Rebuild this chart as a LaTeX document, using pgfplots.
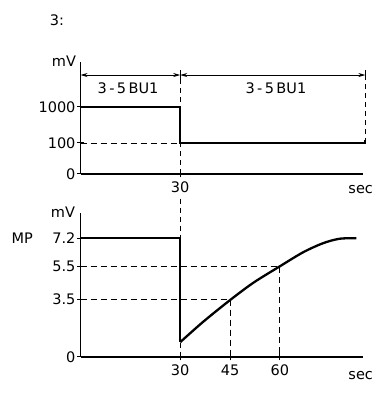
\documentclass[border=0pt]{standalone}
\usepackage{pgfplots}
\pgfplotsset{compat=1.18}
\usepackage{fontspec}
\setmainfont{DejaVu Sans}
\usetikzlibrary{arrows.meta}
\begin{document}
\begin{tikzpicture}[x=1pt,y=1pt,font=\fontsize{14.5}{16}\selectfont]
\path[use as bounding box] (0,0) rectangle (386,393);
\node at (57,373) {3:};
% ---------------- top axis
\begin{axis}[
  at={(80.5pt,219pt)}, anchor=south west,
  scale only axis, width=282.5pt, height=112pt,
  xmin=0, xmax=85, ymin=0, ymax=3.61,
  axis x line=bottom, axis y line=left,
  axis line style={line width=1.4pt,-},
  xtick={30}, xticklabels={30},
  ytick={0,1,2.16}, yticklabels={0,100,1000},
  tick style={black,line width=1pt},
  major tick length=7pt, tick align=center,
  xticklabel style={yshift=-1pt},
  yticklabel style={xshift=2pt},
  /pgf/number format/assume math mode=true,
  clip=false,
]
\addplot[black,line width=2.3pt] coordinates {(0,2.16) (30,2.16) (30,1) (85.7,1) (85.7,1.1)};
\addplot[black,line width=0.9pt,dash pattern=on 6pt off 4pt] coordinates {(0,1) (30,1)};
\addplot[black,line width=0.9pt,dash pattern=on 5pt off 4pt] coordinates {(30,3.35) (30,0)};
\addplot[black,line width=0.9pt,dash pattern=on 5pt off 4pt] coordinates {(85.7,3.19) (85.7,1)};
\addplot[black,line width=0.9pt] coordinates {(30,3.35) (30,3.03)};
\addplot[black,line width=0.9pt] coordinates {(85.7,3.35) (85.7,3.03)};
\addplot[black,line width=0.8pt,{Stealth[length=7pt,width=4pt]}-{Stealth[length=7pt,width=4pt]}] coordinates {(0,3.19) (30,3.19)};
\addplot[black,line width=0.8pt,{Stealth[length=7pt,width=4pt]}-{Stealth[length=7pt,width=4pt]}] coordinates {(30,3.19) (85.7,3.19)};
\node at (axis cs:14.3,2.78) {3\,-\,5\,BU1};
\node at (axis cs:58.8,2.78) {3\,-\,5\,BU1};
\node[anchor=east] at (axis cs:-0.3,3.62) {mV};
\node at (axis cs:84.3,-0.5) {sec};
\end{axis}
% ---------------- bottom axis
\begin{axis}[
  at={(80.5pt,36pt)}, anchor=south west,
  scale only axis, width=282.5pt, height=144pt,
  xmin=0, xmax=85, ymin=0, ymax=8.73,
  axis x line=bottom, axis y line=left,
  axis line style={line width=1.4pt,-},
  xtick={30,45,60}, xticklabels={30,45,60},
  ytick={0,3.5,5.5,7.2}, yticklabels={0,3.5,5.5,7.2},
  tick style={black,line width=1pt},
  major tick length=7pt, tick align=center,
  xticklabel style={yshift=-1pt},
  yticklabel style={xshift=2pt},
  /pgf/number format/assume math mode=true,
  clip=false,
]
\addplot[black,line width=0.9pt,dash pattern=on 6pt off 4pt] coordinates {(0,5.5) (60,5.5) (60,0)};
\addplot[black,line width=0.9pt,dash pattern=on 6pt off 4pt] coordinates {(0,3.5) (45,3.5) (45,0)};
\addplot[black,line width=0.9pt,dash pattern=on 5pt off 4pt] coordinates {(30,9.6) (30,0)};
\addplot[black,line width=2.3pt] coordinates {(0,7.2) (30,7.2) (30,0.9)};
\addplot[black,line width=2.3pt,smooth,tension=0.5] coordinates {(30,0.9) (37,2.15) (45,3.45) (52,4.5) (60,5.5) (67,6.35) (73,6.9) (78,7.17) (83,7.2)};
\node[anchor=east] at (axis cs:-0.6,8.75) {mV};
\node at (axis cs:-17.5,7.2) {MP};
\node at (axis cs:84.3,-1.1) {sec};
\end{axis}
\end{tikzpicture}
\end{document}
